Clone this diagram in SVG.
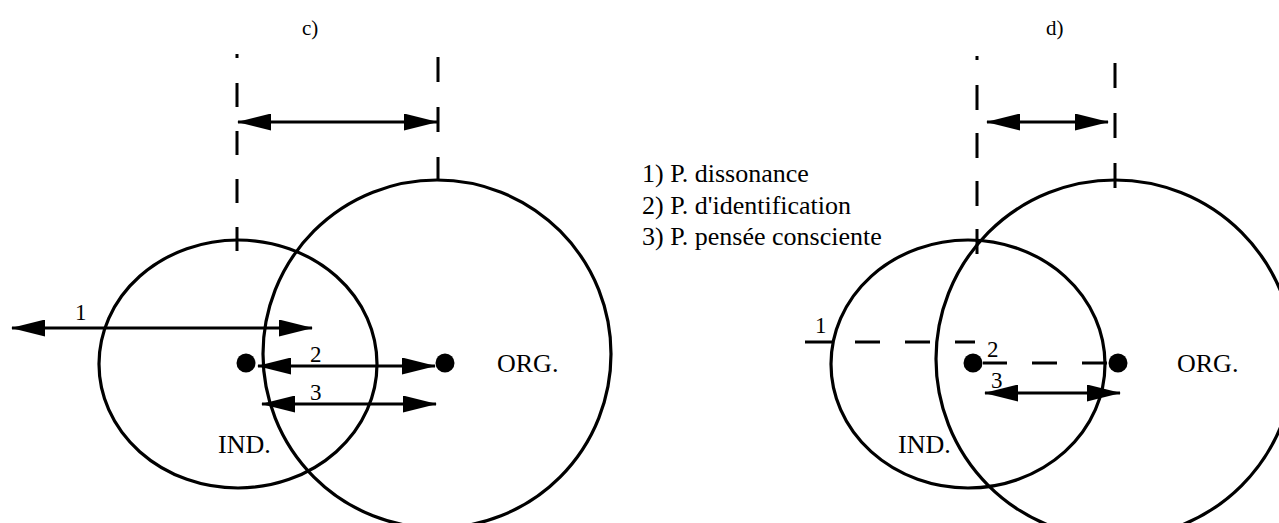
<svg xmlns="http://www.w3.org/2000/svg" width="1279" height="523" viewBox="0 0 1279 523">
<defs>
<marker id="ah" viewBox="0 0 34 17" refX="33" refY="8.5" markerWidth="34" markerHeight="17" markerUnits="userSpaceOnUse" orient="auto-start-reverse"><path d="M0,0 L34,8.5 L0,17 Z" fill="#000"/></marker>
</defs>
<style>
.ring{fill:none;stroke:#000;stroke-width:3.2}
.dot{fill:#000}
.arr{stroke:#000;stroke-width:3;fill:none;marker-start:url(#ah);marker-end:url(#ah)}
.dash{stroke:#000;stroke-width:3;fill:none}
text{font-family:"Liberation Serif","Times New Roman",serif;fill:#000}
.lbl{font-size:26px}
.num{font-size:23px}
.cap{font-size:21px}
</style>
<rect width="1279" height="523" fill="#fff"/>

<g id="panel-c">
  <text class="cap" x="302" y="35">c)</text>
  <g id="ind-c">
    <ellipse class="ring" cx="238" cy="364" rx="139" ry="124"/>
    <circle class="dot" cx="246" cy="363" r="9.5"/>
    <text class="lbl" x="218" y="453">IND.</text>
  </g>
  <g id="org-c">
    <circle class="ring" cx="437" cy="354" r="174"/>
    <circle class="dot" cx="445" cy="363" r="9.5"/>
    <text class="lbl" x="497" y="372">ORG.</text>
  </g>
</g>

<g id="panel-d">
  <text class="cap" x="1046" y="35">d)</text>
  <g id="ind-d">
    <ellipse class="ring" cx="968" cy="364" rx="137" ry="124"/>
    <circle class="dot" cx="973" cy="363" r="9.5"/>
    <text class="lbl" x="898" y="453">IND.</text>
  </g>
  <g id="org-d">
    <circle class="ring" cx="1115" cy="359" r="179"/>
    <circle class="dot" cx="1118" cy="363" r="9.5"/>
    <text class="lbl" x="1177" y="372">ORG.</text>
  </g>
</g>

<g id="legend" class="lbl">
  <text x="642" y="182">1) P. dissonance</text>
  <text x="642" y="213.5">2) P. d'identification</text>
  <text x="642" y="245">3) P. pensée consciente</text>
</g>

<g id="connectors">
  <!-- panel c guides -->
  <line class="dash" x1="237" y1="54" x2="237" y2="58"/>
  <line class="dash" x1="237" y1="83" x2="237" y2="252" stroke-dasharray="24 24"/>
  <line class="dash" x1="438" y1="57" x2="438" y2="181" stroke-dasharray="25 25"/>
  <line class="arr" x1="238" y1="122" x2="437" y2="122"/>
  <line class="arr" x1="12" y1="328" x2="312" y2="328"/>
  <line class="arr" x1="258" y1="366" x2="435" y2="366"/>
  <line class="arr" x1="262" y1="404" x2="436" y2="404"/>
  <text class="num" x="75" y="320">1</text>
  <text class="num" x="310" y="362">2</text>
  <text class="num" x="310" y="400">3</text>

  <!-- panel d guides -->
  <line class="dash" x1="977" y1="56" x2="977" y2="60"/>
  <line class="dash" x1="977" y1="85" x2="977" y2="256" stroke-dasharray="25 23"/>
  <line class="dash" x1="1115" y1="63" x2="1115" y2="188" stroke-dasharray="25 25"/>
  <line class="arr" x1="987" y1="122" x2="1108" y2="122"/>
  <path class="dash" d="M805,342 H832 M855,342 H880 M905,342 H930 M955,342 H975"/>
  <path class="dash" d="M983,363 H1007 M1032,363 H1057 M1082,363 H1107"/>
  <line class="arr" x1="985" y1="393" x2="1120" y2="393"/>
  <text class="num" x="815" y="333">1</text>
  <text class="num" x="987" y="357">2</text>
  <text class="num" x="991" y="388">3</text>
</g>
</svg>
